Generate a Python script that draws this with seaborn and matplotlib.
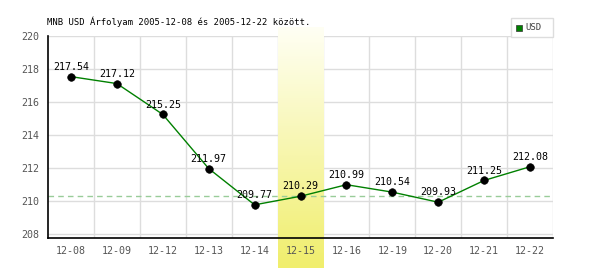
import numpy as np
import pandas as pd
import matplotlib
matplotlib.use("Agg")
import matplotlib.pyplot as plt
import seaborn as sns
from matplotlib.colors import LinearSegmentedColormap
from matplotlib.patches import Rectangle

dates = ["12-08", "12-09", "12-12", "12-13", "12-14", "12-15", "12-16", "12-19", "12-20", "12-21", "12-22"]
values = [217.54, 217.12, 215.25, 211.97, 209.77, 210.29, 210.99, 210.54, 209.93, 211.25, 212.08]
highlight = "12-15"
yticks = [208, 210, 212, 214, 216, 218, 220]
title = "MNB USD Árfolyam 2005-12-08 és 2005-12-22 között."
series_name = "USD"

sns.set_style("white")
plt.rcParams["font.family"] = ["DejaVu Sans Mono", "DejaVu Sans"]

df = pd.DataFrame({"date": dates, "value": values})
df["x"] = np.arange(len(dates))

fig = plt.figure(figsize=(6, 2.7), dpi=100)
ax = fig.add_axes([0.08, 0.1185, 0.8417, 0.748])
ax.set_axisbelow(True)

# grid
for yv in yticks:
    ax.axhline(yv, color="#dddddd", lw=1, zorder=0)
for i in range(len(dates)):
    ax.axvline(i + 0.5, color="#dddddd", lw=1, zorder=0)

# highlight band with gradient
hi = dates.index(highlight)
cmap = LinearSegmentedColormap.from_list("hl", ["#fffff4", "#f0ee6c"])
grad = np.linspace(0, 1, 256).reshape(-1, 1)
ax.imshow(grad, cmap=cmap, aspect="auto", extent=(hi - 0.5, hi + 0.5, 205.95, 220.5),
          origin="upper", zorder=0.3, clip_on=False)
ax.set_xlim(-0.5, len(dates) - 0.5)
ax.set_ylim(207.76, 220.0)

# reference dashed line at highlight value
ax.axhline(values[hi], color="#99cc99", lw=1, ls=(0, (4, 3)), zorder=2)

sns.lineplot(data=df, x="x", y="value", ax=ax, color="#008000", lw=1.0, zorder=3, legend=False)
sns.scatterplot(data=df, x="x", y="value", ax=ax, color="black", s=30, edgecolor="black", zorder=4, legend=False)

for xi, v in zip(df["x"], values):
    ax.annotate(f"{v:.2f}", (xi, v), xytext=(0, 3.5), textcoords="offset points",
                ha="center", va="bottom", fontsize=7.2, color="black", zorder=5)

ax.set_xticks(df["x"])
ax.set_xticklabels(dates, fontsize=7.2, color="#555555")
ax.set_yticks(yticks)
ax.set_yticklabels([str(t) for t in yticks], fontsize=7.2, color="#555555")
ax.tick_params(axis="both", length=0, pad=6)
ax.set_xlabel("")
ax.set_ylabel("")

for s in ["top", "right"]:
    ax.spines[s].set_visible(False)
for s in ["left", "bottom"]:
    ax.spines[s].set_color("black")
    ax.spines[s].set_linewidth(1.2)
    ax.spines[s].set_zorder(6)

fig.text(47 / 600, 1 - 22 / 270, title, fontsize=6.4, color="black", ha="left", va="center")

# legend box
fig.patches.append(Rectangle((511 / 600, 1 - 37 / 270), 42 / 600, 19 / 270, transform=fig.transFigure,
                             facecolor="white", edgecolor="#dddddd", lw=1))
fig.patches.append(Rectangle((516 / 600, 1 - 31 / 270), 6 / 600, 6 / 270, transform=fig.transFigure,
                             facecolor="#008000", edgecolor="#333333", lw=0.5))
fig.text(525 / 600, 1 - 28 / 270, series_name, fontsize=6.5, color="#444444", ha="left", va="center")

fig.savefig("out.png", dpi=100)
